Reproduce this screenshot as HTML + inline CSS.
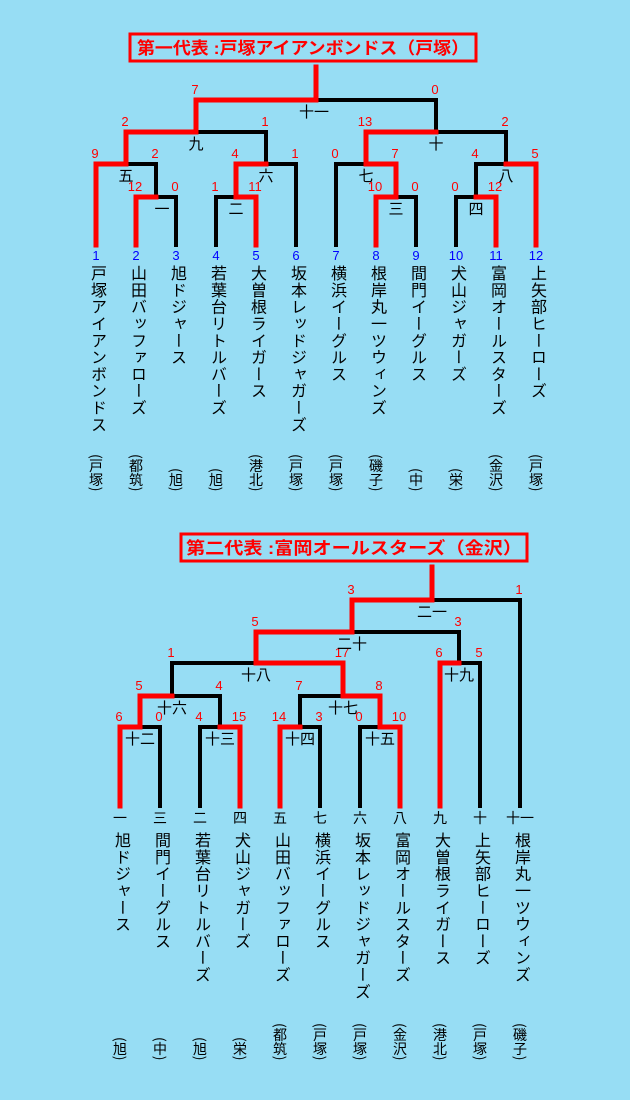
<!DOCTYPE html>
<html><head><meta charset="utf-8">
<style>
html,body{margin:0;padding:0}
body{width:630px;height:1100px;background:#97ddf4;position:relative;overflow:hidden;font-family:"Liberation Sans","Noto Sans CJK JP",sans-serif}
svg{position:absolute;left:0;top:0}
.nm{position:absolute;writing-mode:vertical-rl;font-size:16px;letter-spacing:0.8px;color:#000;width:18px;line-height:18px;font-family:"Liberation Sans","Noto Sans CJK JP",sans-serif}
.loc{position:absolute;writing-mode:vertical-rl;font-size:14px;color:#000;width:16px;line-height:16px;font-family:"Noto Sans CJK JP",sans-serif}
</style></head>
<body>
<svg id="s" width="630" height="1100">
  <rect x="130" y="34" width="346" height="27" fill="none" stroke="#f00" stroke-width="3"/>
  <text x="137" y="54" font-size="17" font-weight="bold" fill="#f00" textLength="332" lengthAdjust="spacingAndGlyphs" font-family="Liberation Sans, Noto Sans CJK JP, sans-serif">第一代表 :戸塚アイアンボンドス（戸塚）</text>
  <rect x="181" y="534" width="346" height="27" fill="none" stroke="#f00" stroke-width="3"/>
  <text x="186" y="554" font-size="17" font-weight="bold" fill="#f00" textLength="336" lengthAdjust="spacingAndGlyphs" font-family="Liberation Sans, Noto Sans CJK JP, sans-serif">第二代表 :富岡オールスターズ（金沢）</text>
</svg>
<script>
const topNames=["戸塚アイアンボンドス","山田バッファローズ","旭ドジャース","若葉台リトルバーズ","大曽根ライガース","坂本レッドジャガーズ","横浜イーグルス","根岸丸一ツウィンズ","間門イーグルス","犬山ジャガーズ","富岡オールスターズ","上矢部ヒーローズ"];
const topLocs=["(戸塚)","(都筑)","(旭)","(旭)","(港北)","(戸塚)","(戸塚)","(磯子)","(中)","(栄)","(金沢)","(戸塚)"];
const botNames=["旭ドジャース","間門イーグルス","若葉台リトルバーズ","犬山ジャガーズ","山田バッファローズ","横浜イーグルス","坂本レッドジャガーズ","富岡オールスターズ","大曽根ライガース","上矢部ヒーローズ","根岸丸一ツウィンズ"];
const botLocs=["(旭)","(中)","(旭)","(栄)","(都筑)","(戸塚)","(戸塚)","(金沢)","(港北)","(戸塚)","(磯子)"];
const botSeeds=["一","三","二","四","五","七","六","八","九","十","十一"];
// matches: [leftChild, rightChild, levelY, leftScore, rightScore, label, labelDx, midX override]
const topMatches={
 m1:["L1","L2",197,12,0,"一",6,null], m2:["L3","L4",197,1,11,"二",0,null], m3:["L7","L8",197,10,0,"三",0,null], m4:["L9","L10",197,0,12,"四",0,null],
 m5:["L0","m1",164,9,2,"五",0,null], m6:["m2","L5",164,4,1,"六",0,null], m7:["L6","m3",164,0,7,"七",0,null], m8:["m4","L11",164,4,5,"八",0,null],
 m9:["m5","m6",132,2,1,"九",0,null], m10:["m7","m8",132,13,2,"十",0,null], m11:["m9","m10",100,7,0,"十一",-2,null]
};
const botMatches={
 b12:["L0","L1",727,6,0,"十二",0,null], b13:["L2","L3",727,4,15,"十三",0,null], b14:["L4","L5",727,14,3,"十四",0,null], b15:["L6","L7",727,0,10,"十五",0,null],
 b16:["b12","b13",696,5,4,"十六",0,172], b17:["b14","b15",696,7,8,"十七",0,343], b19:["L8","L9",663,6,5,"十九",0,459],
 b18:["b16","b17",663,1,17,"十八",0,256], b20:["b18","b19",632,5,3,"二十",0,352], b21:["b20","L10",600,3,1,"二一",0,432]
};
const svg=document.getElementById('s');
const NS="http://www.w3.org/2000/svg";
const blackLayer=document.createElementNS(NS,'g');


const redLayer=document.createElementNS(NS,'g');


const txtLayer=document.createElementNS(NS,'g');


svg.appendChild(blackLayer);svg.appendChild(redLayer);svg.appendChild(txtLayer);
function line(x1,y1,x2,y2,red){
  const l=document.createElementNS(NS,'line');
  l.setAttribute('x1',x1);l.setAttribute('y1',y1);l.setAttribute('x2',x2);l.setAttribute('y2',y2);
  l.setAttribute('stroke',red?'#f00':'#000');
  l.setAttribute('stroke-width',red?5:4);
  l.setAttribute('stroke-linecap','square');
  
  
  (red?redLayer:blackLayer).appendChild(l);
}
function text(x,y,s,size,fill,name){
  const t=document.createElementNS(NS,'text');
  t.setAttribute('x',x);t.setAttribute('y',y);t.setAttribute('font-size',size);
  t.setAttribute('fill',fill);t.setAttribute('text-anchor','middle');
  t.setAttribute('font-family','Liberation Sans, Noto Sans CJK JP, sans-serif');
  t.textContent=s;
  
  
  txtLayer.appendChild(t);
}
function build(matches,n,x0,leafY,finalY){
  const nodes={};
  for(let i=0;i<n;i++)nodes["L"+i]={x:x0+i*40,y:leafY};
  let last=null;
  for(const k in matches){
    const [a,b,y,sa,sb,lab,dx,mo]=matches[k];
    const A=nodes[a],B=nodes[b];
    const xm=(mo!==null)?mo:(A.x+B.x)/2;
    nodes[k]={x:xm,y:y};
    const leftWin=sa>sb;
    line(A.x,y,A.x,A.y,leftWin);
    line(B.x,y,B.x,B.y,!leftWin);
    line(A.x,y,xm,y,leftWin);
    line(xm,y,B.x,y,!leftWin);
    text(A.x-1,y-6,String(sa),13,'#f00','score');
    text(B.x-1,y-6,String(sb),13,'#f00','score');
    text(xm+dx,y+17,lab,15,'#000','round-label');
    last=k;
  }
  const f=nodes[last];
  line(f.x,finalY,f.x,f.y,true);
}
build(topMatches,12,96,245,67);
build(botMatches,11,120,806,567);
function addDiv(cls,x,top,s,name,bottom){
  const d=document.createElement('div');
  d.className=cls;d.textContent=s;
  d.style.left=(x-(cls==='nm'?9:8))+'px';
  if(bottom!==undefined)d.style.bottom=bottom+'px';else d.style.top=top+'px';
  
  
  document.body.appendChild(d);
}
topNames.forEach((s,i)=>{
  const x=96+i*40;
  text(x,260,String(i+1),13,'#00f','seed-number');
  addDiv('nm',x,265,s,'team-name');
  addDiv('loc',x,0,topLocs[i],'team-location',1100-491);
});
botNames.forEach((s,i)=>{
  const x=120+i*40;
  text(x,823,botSeeds[i],14,'#000','draw-number');
  addDiv('nm',x,832,s,'team-name');
  addDiv('loc',x,0,botLocs[i],'team-location',1100-1060);
});
</script>
</body></html>
